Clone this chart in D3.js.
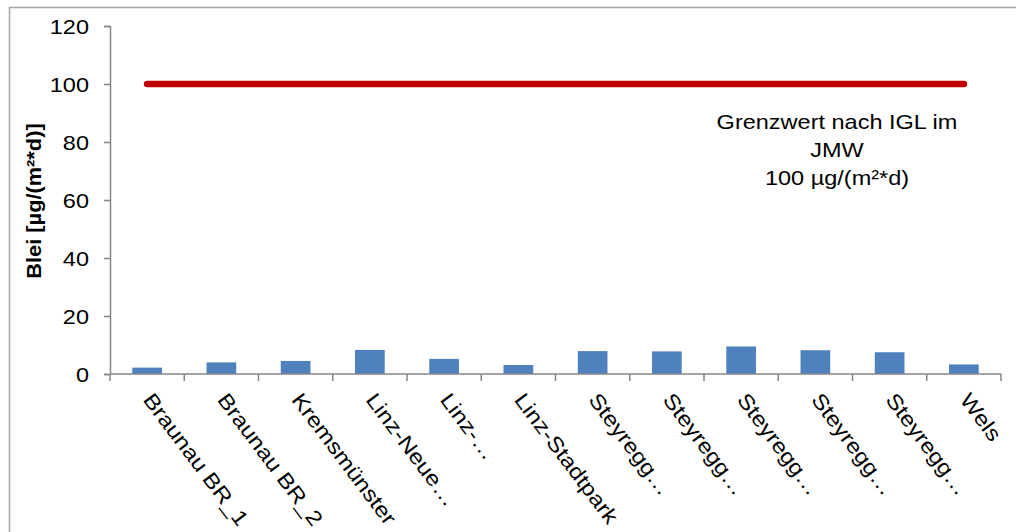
<!DOCTYPE html>
<html>
<head>
<meta charset="utf-8">
<script src="https://cdn.jsdelivr.net/npm/d3@7"></script>
<style>
  html, body { margin: 0; padding: 0; background: #fff; }
  svg { display: block; font-family: "Liberation Sans", Arial, sans-serif; }
</style>
</head>
<body>
<svg id="chart" width="1016" height="532"></svg>
<script>
// Measuring stations (labels as shown on the axis)
const stations = [
  "Braunau BR_1", "Braunau BR_2", "Kremsmünster", "Linz-Neue…", "Linz-…",
  "Linz-Stadtpark", "Steyregg…", "Steyregg…", "Steyregg…", "Steyregg…",
  "Steyregg…", "Wels"
];
// Lead deposition, µg/(m²*d)
const leadValues = [2.2, 4.0, 4.5, 8.3, 5.2, 3.1, 7.9, 7.8, 9.5, 8.2, 7.5, 3.3];
// Limit value (IGL, annual mean)
const limitValues = stations.map(() => 100);
const yTicks = [0, 20, 40, 60, 80, 100, 120];
const limitLabel = ["Grenzwert nach IGL im", "JMW", "100 µg/(m²*d)"];
const yTitle = "Blei [µg/(m²*d)]";

const svg = d3.select("#chart");
const axisColor = "#868686";
const textWiden = 1.12;   // wide-set Arial look of the labels

// Outer chart frame
svg.append("rect")
  .attr("x", 9.5).attr("y", 7.5)
  .attr("width", 1100).attr("height", 600)
  .attr("fill", "none").attr("stroke", "#a6a6a6").attr("stroke-width", 1.5);

const x = d3.scaleBand()
  .domain(d3.range(stations.length))
  .range([110, 1001])
  .paddingInner(0.6).paddingOuter(0.3);

const y = d3.scaleLinear().domain([0, 120]).range([374, 26]);

// Y axis (line and ticks from d3, labels drawn separately)
const yAxis = svg.append("g").attr("transform", "translate(110,0)")
  .call(d3.axisLeft(y).tickValues(yTicks).tickSize(6).tickFormat(""));
yAxis.select(".domain").attr("stroke", axisColor).attr("stroke-width", 1.5);
yAxis.selectAll(".tick line").attr("stroke", axisColor).attr("stroke-width", 1.5);

svg.append("g").selectAll("text")
  .data(yTicks)
  .join("text")
  .attr("transform", d => `translate(89,${y(d)}) scale(${textWiden},1)`)
  .attr("dy", "0.36em")
  .attr("text-anchor", "end")
  .attr("font-size", 21)
  .attr("fill", "#000")
  .text(d => d);

// Bars
svg.append("g").selectAll("rect")
  .data(leadValues)
  .join("rect")
  .attr("x", (d, i) => x(i))
  .attr("width", x.bandwidth())
  .attr("y", d => y(d))
  .attr("height", d => y(0) - y(d))
  .attr("fill", "#4f81bd");

// X axis: ticks at category boundaries
const step = x.step();
const boundaries = d3.range(stations.length + 1).map(i => 110 + i * step);
const xAxisG = svg.append("g");
xAxisG.append("line")
  .attr("x1", 110).attr("x2", 1001)
  .attr("y1", y(0)).attr("y2", y(0))
  .attr("stroke", axisColor).attr("stroke-width", 1.5);
xAxisG.selectAll("line.tk")
  .data(boundaries)
  .join("line").attr("class", "tk")
  .attr("x1", d => d).attr("x2", d => d)
  .attr("y1", y(0)).attr("y2", y(0) + 7)
  .attr("stroke", axisColor).attr("stroke-width", 1.5);

// Rotated category labels
xAxisG.selectAll("text")
  .data(stations)
  .join("text")
  .attr("transform", (d, i) => {
    const cx = x(i) + x.bandwidth() / 2;
    return `translate(${cx - 5},${y(0) + 26}) rotate(53) scale(${textWiden + 0.04},1)`;
  })
  .attr("text-anchor", "start")
  .attr("font-size", 21)
  .attr("fill", "#000")
  .text(d => d);

// Limit line through the category centres
const line = d3.line()
  .x((d, i) => x(i) + x.bandwidth() / 2)
  .y(d => y(d));
svg.append("path")
  .datum(limitValues)
  .attr("d", line)
  .attr("fill", "none")
  .attr("stroke", "#c00000")
  .attr("stroke-width", 6.5)
  .attr("stroke-linecap", "round");

// Limit annotation
limitLabel.forEach((t, i) => {
  svg.append("text")
    .attr("transform", `translate(837,${129 + i * 28}) scale(${textWiden},1)`)
    .attr("text-anchor", "middle")
    .attr("font-size", 21)
    .attr("fill", "#000")
    .text(t);
});

// Y axis title
svg.append("text")
  .attr("transform", `translate(41,${(y(0) + y(120)) / 2 + 1}) rotate(-90) scale(1.09,1)`)
  .attr("text-anchor", "middle")
  .attr("font-size", 20)
  .attr("font-weight", "bold")
  .attr("fill", "#000")
  .text(yTitle);
</script>
</body>
</html>
